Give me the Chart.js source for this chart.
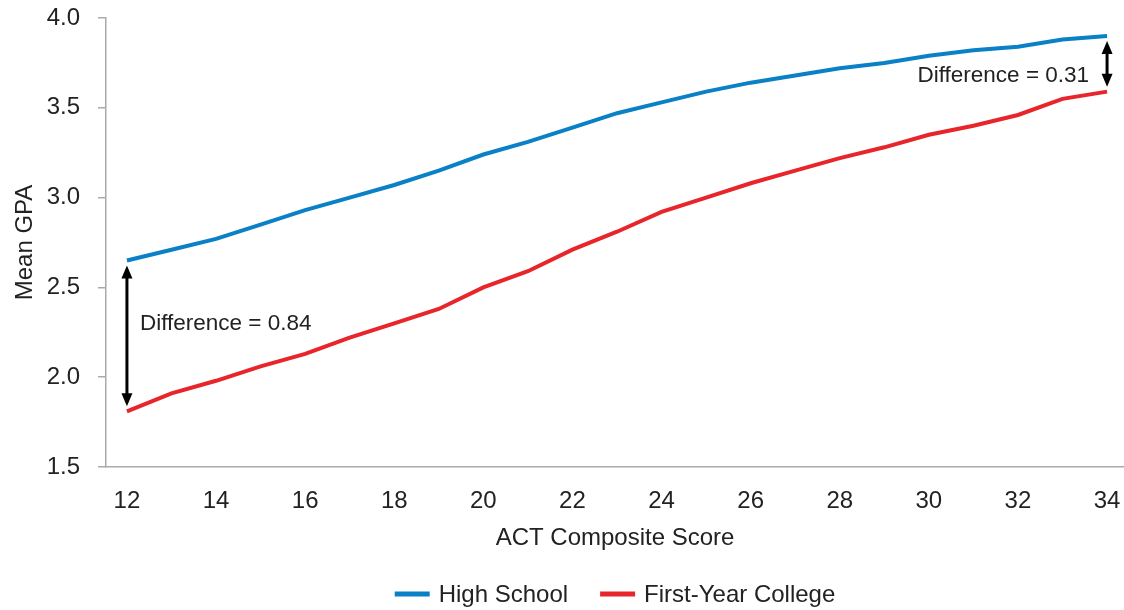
<!DOCTYPE html>
<html lang="en">
<head>
    <meta charset="UTF-8" />
    <title>Mean GPA by ACT Composite Score</title>
    <script src="https://cdn.jsdelivr.net/npm/chart.js"></script>
    <style>
        html, body { margin: 0; padding: 0; background: #fff; }
        #wrap { width: 1124px; height: 610px; }
    </style>
</head>
<body>
<div id="wrap"><canvas id="grafico"></canvas></div>

<script>
    const scores = [12, 13, 14, 15, 16, 17, 18, 19, 20, 21, 22, 23, 24, 25, 26, 27, 28, 29, 30, 31, 32, 33, 34];
    const highSchool = [2.65, 2.71, 2.77, 2.85, 2.93, 3.00, 3.07, 3.15, 3.24, 3.31, 3.39, 3.47, 3.53, 3.59, 3.64, 3.68, 3.72, 3.75, 3.79, 3.82, 3.84, 3.88, 3.90];
    const college = [1.81, 1.91, 1.98, 2.06, 2.13, 2.22, 2.30, 2.38, 2.50, 2.59, 2.71, 2.81, 2.92, 3.00, 3.08, 3.15, 3.22, 3.28, 3.35, 3.40, 3.46, 3.55, 3.59];
    const xTicks = [12, 14, 16, 18, 20, 22, 24, 26, 28, 30, 32, 34];
    const yTicks = [1.5, 2.0, 2.5, 3.0, 3.5, 4.0];

    const fonte = 'Liberation Sans, Arial, sans-serif';

    // setas com a diferença entre as linhas no início e no fim
    const diferencas = {
        id: 'diferencas',
        afterDatasetsDraw(chart) {
            const ctx = chart.ctx;
            const x = chart.scales.x;
            const y = chart.scales.y;

            function seta(i, texto, alinhar, yTexto) {
                const px = x.getPixelForValue(scores[i]);
                const topo = y.getPixelForValue(highSchool[i]) + 5;
                const base = y.getPixelForValue(college[i]) - 5;
                ctx.save();
                ctx.strokeStyle = '#000';
                ctx.fillStyle = '#000';
                ctx.lineWidth = 3;
                ctx.beginPath();
                ctx.moveTo(px, topo + 10);
                ctx.lineTo(px, base - 10);
                ctx.stroke();
                ctx.beginPath();
                ctx.moveTo(px, topo);
                ctx.lineTo(px - 5.5, topo + 13);
                ctx.lineTo(px + 5.5, topo + 13);
                ctx.closePath();
                ctx.fill();
                ctx.beginPath();
                ctx.moveTo(px, base);
                ctx.lineTo(px - 5.5, base - 13);
                ctx.lineTo(px + 5.5, base - 13);
                ctx.closePath();
                ctx.fill();

                ctx.font = '22.5px ' + fonte;
                ctx.fillStyle = '#222';
                ctx.textBaseline = 'middle';
                ctx.textAlign = alinhar;
                const py = y.getPixelForValue(yTexto);
                if (alinhar === 'left') {
                    ctx.fillText(texto, px + 13, py);
                } else {
                    ctx.fillText(texto, px - 18, py);
                }
                ctx.restore();
            }

            seta(0, 'Difference = 0.84', 'left', 2.30);
            seta(scores.length - 1, 'Difference = 0.31', 'right', 3.68);
        }
    };

    // legenda desenhada à mão, centrada na área do gráfico
    const legenda = {
        id: 'legenda',
        afterDraw(chart) {
            const ctx = chart.ctx;
            const area = chart.chartArea;
            const itens = chart.data.datasets;
            ctx.save();
            ctx.font = '24px ' + fonte;
            ctx.textBaseline = 'middle';
            ctx.textAlign = 'left';
            const larguras = itens.map(d => 35 + 9 + ctx.measureText(d.label).width);
            const total = larguras.reduce((a, b) => a + b, 0) + 32 * (itens.length - 1);
            let px = (area.left + area.right) / 2 - total / 2;
            const py = 594;
            itens.forEach((d, i) => {
                ctx.fillStyle = d.borderColor;
                ctx.fillRect(px, py - 2.5, 35, 5);
                ctx.fillStyle = '#222';
                ctx.fillText(d.label, px + 44, py + 1);
                px += larguras[i] + 32;
            });
            ctx.restore();
        }
    };

    new Chart(document.getElementById('grafico'), {
        type: 'line',
        data: {
            datasets: [{
                label: 'High School',
                data: scores.map((s, i) => ({ x: s, y: highSchool[i] })),
                borderColor: '#0a80c6',
                backgroundColor: '#0a80c6',
                borderWidth: 4,
                pointRadius: 0,
                tension: 0
            }, {
                label: 'First-Year College',
                data: scores.map((s, i) => ({ x: s, y: college[i] })),
                borderColor: '#e8252b',
                backgroundColor: '#e8252b',
                borderWidth: 4,
                pointRadius: 0,
                tension: 0
            }]
        },
        options: {
            responsive: true,
            maintainAspectRatio: false,
            animation: false,
            layout: { padding: { top: 18, right: 0, left: 11, bottom: 60 } },
            plugins: {
                legend: { display: false },
                tooltip: { enabled: false }
            },
            scales: {
                x: {
                    type: 'linear',
                    min: 11.53,
                    max: 34.38,
                    afterBuildTicks: function (axis) {
                        axis.ticks = xTicks.map(v => ({ value: v }));
                    },
                    afterFit: function (s) {
                        s.height = 83;
                        s.paddingLeft = 0;
                        s.paddingRight = 0;
                    },
                    grid: { drawOnChartArea: false, drawTicks: false },
                    border: { color: '#aaa', width: 1.5 },
                    ticks: {
                        color: '#222',
                        font: { family: fonte, size: 24, lineHeight: 1 },
                        autoSkip: false,
                        maxRotation: 0,
                        padding: 22,
                        callback: v => v
                    },
                    title: {
                        display: true,
                        text: 'ACT Composite Score',
                        color: '#222',
                        font: { family: fonte, size: 24, lineHeight: 1 },
                        padding: { top: 0, bottom: 0 }
                    }
                },
                y: {
                    min: 1.5,
                    max: 4.0,
                    afterBuildTicks: function (axis) {
                        axis.ticks = yTicks.map(v => ({ value: v }));
                    },
                    afterFit: function (s) {
                        s.width = 95;
                        s.paddingTop = 0;
                        s.paddingBottom = 0;
                    },
                    grid: { drawOnChartArea: false, drawTicks: true, tickLength: 8, color: '#aaa', lineWidth: 1.5 },
                    border: { color: '#aaa', width: 1.5 },
                    ticks: {
                        color: '#222',
                        font: { family: fonte, size: 24 },
                        padding: 18,
                        callback: v => v.toFixed(1)
                    },
                    title: {
                        display: true,
                        text: 'Mean GPA',
                        color: '#222',
                        font: { family: fonte, size: 24, lineHeight: 1 },
                        padding: { top: 2, bottom: 0 }
                    }
                }
            }
        },
        plugins: [diferencas, legenda]
    });
</script>
</body>
</html>
